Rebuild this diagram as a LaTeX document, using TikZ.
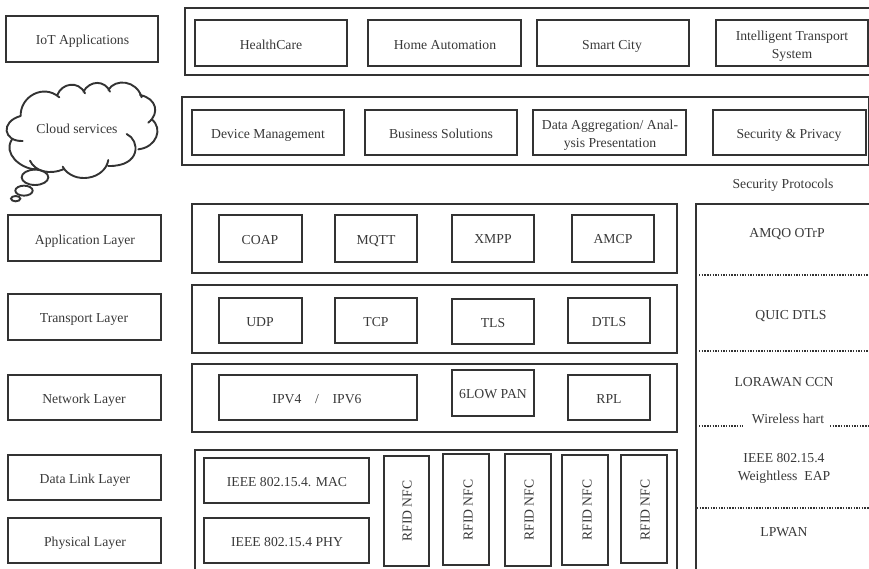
\documentclass[tikz,border=0pt]{standalone}
\usepackage{fontspec}
\setmainfont{Liberation Serif}
\usetikzlibrary{calc}
\definecolor{ink}{gray}{0.2}
\definecolor{txt}{gray}{0.22}
\tikzset{
  x=1pt,y=-1pt,
  box/.style={draw=ink,line width=2pt,inner sep=0pt},
  plain/.style={text=txt,font=\fontsize{13.7}{18.5}\selectfont,inner sep=0pt,align=center,text height=9pt,text depth=0pt},
  dotline/.style={draw=ink,line width=1.7pt,dash pattern=on 1.4pt off 1.3pt},
  cloudline/.style={draw=ink,line width=1.9pt,line cap=round}
}
% name, x0, y0, x1, y1 : empty box
\newcommand{\bx}[5]{\path let \p1=(#2,#3), \p2=(#4,#5) in
  node[box,minimum width=\x2-\x1,minimum height=\y1-\y2] (#1) at ($(#2,#3)!0.5!(#4,#5)$) {};}
% as above, plus text centre x, y (of the last line) and text
\newcommand{\tb}[8]{\bx{#1}{#2}{#3}{#4}{#5}\node[plain] (#1t) at (#6,#7) {#8};}
\begin{document}
\begin{tikzpicture}
\useasboundingbox (0,0) rectangle (869,568);
\clip (0,0) rectangle (869,568);
% left column
\tb{la}{6}{16}{158}{62}{82.5}{40}{IoT Applications}
\tb{lb}{8}{215}{161}{261}{85}{240}{Application Layer}
\tb{lc}{8}{294}{161}{340}{84}{318}{Transport Layer}
\tb{ld}{8}{375}{161}{420}{84}{399}{Network Layer}
\tb{le}{8}{455}{161}{500}{85}{479}{Data Link Layer}
\tb{lf}{8}{518}{161}{563}{85}{542}{Physical Layer}
% row 1
\bx{oa}{185}{8}{873}{75}
\tb{aa}{195}{20}{347}{66}{271}{45}{HealthCare}
\tb{ab}{368}{20}{521}{66}{445}{45}{Home Automation}
\tb{ac}{537}{20}{689}{66}{612}{45}{Smart City}
\tb{ad}{716}{20}{868}{66}{792}{54}{Intelligent Transport\\System}
% row 2
\bx{ob}{182}{97}{868.5}{165}
\tb{ba}{192}{110}{344}{155}{268}{134}{Device Management}
\tb{bb}{365}{110}{517}{155}{441}{134}{Business Solutions}
\tb{bc}{533}{110}{686}{155}{610}{143}{Data Aggregation/ Anal-\\ysis Presentation}
\tb{bd}{713}{110}{866}{155}{789}{134}{Security \& Privacy}
\node[plain] (sp) at (783,184) {Security Protocols};
% application
\bx{oc}{192}{204}{677}{273}
\tb{ca}{219}{215}{302}{262}{260}{240}{COAP}
\tb{cb}{335}{215}{417}{262}{376}{240}{MQTT}
\tb{cc}{452}{215}{534}{262}{493}{239}{XMPP}
\tb{cd}{572}{215}{654}{262}{613}{239}{AMCP}
% transport
\bx{od}{192}{285}{677}{353}
\tb{da}{219}{298}{302}{343}{260}{322}{UDP}
\tb{db}{335}{298}{417}{343}{376}{322}{TCP}
\tb{dc}{452}{299}{534}{344}{493}{323}{TLS}
\tb{dd}{568}{298}{650}{343}{609}{322}{DTLS}
% network
\bx{oe}{192}{364}{677}{432}
\tb{ea}{219}{375}{417}{420}{317}{399}{IPV4\quad/\quad IPV6}
\tb{eb}{452}{370}{534}{416}{493}{394}{6LOW PAN}
\tb{ec}{568}{375}{650}{420}{609}{399}{RPL}
% link / physical
\bx{of}{195}{450}{677}{575}
\tb{fa}{204}{458}{369}{503}{287}{482}{IEEE 802.15.4. MAC}
\tb{fb}{204}{518}{369}{563}{287}{542}{IEEE 802.15.4 PHY}
\bx{ga}{384}{456}{429}{566}
\bx{gb}{443}{454}{489}{565}
\bx{gc}{505}{454}{551}{566}
\bx{gd}{562}{455}{608}{565}
\bx{ge}{621}{455}{667}{563}
\node[plain,rotate=90] (gat) at (407,511) {RFID NFC};
\node[plain,rotate=90] (gbt) at (468,510) {RFID NFC};
\node[plain,rotate=90] (gct) at (529,510) {RFID NFC};
\node[plain,rotate=90] (gdt) at (587,510) {RFID NFC};
\node[plain,rotate=90] (get) at (645,510) {RFID NFC};
% security column
\bx{r}{696}{204}{875}{575}
\node[plain] (ra) at (787,233) {AMQO OTrP};
\node[plain] (rb) at (791,315) {QUIC DTLS};
\node[plain] (rc) at (784,382) {LORAWAN CCN};
\node[plain] (rd) at (788,419) {Wireless hart};
\node[plain] (re) at (784,476) {IEEE 802.15.4\\Weightless\ \ EAP};
\node[plain] (rf) at (784,532) {LPWAN};
\coordinate (dl1) at (699,275); \coordinate (dr1) at (869,275);
\coordinate (dl2) at (699,351); \coordinate (dr2) at (869,351);
\coordinate (dl3) at (699,426); \coordinate (dm3) at (743,426);
\coordinate (dm4) at (830,426); \coordinate (dr3) at (869,426);
\coordinate (dl4) at (697,508); \coordinate (dr4) at (869,508);
\path[dotline] (dl1)--(dr1) (dl2)--(dr2) (dl3)--(dm3) (dm4)--(dr3) (dl4)--(dr4);
% cloud
\begin{scope}[shift={(0,60)},x=0.3333pt,y=-0.3333pt]
\path[cloudline]
 (62,168) .. controls (60,110) and (130,70) .. (178,112)
 (172,105) .. controls (185,70) and (235,60) .. (255,100)
 (250,95) .. controls (270,60) and (315,60) .. (330,95)
 (325,90) .. controls (345,55) and (410,60) .. (425,112)
 (420,105) .. controls (470,115) and (480,160) .. (445,188)
 (455,178) .. controls (490,205) and (470,262) .. (415,268)
 (380,222) .. controls (420,240) and (425,320) .. (325,318)
 (325,300) .. controls (315,360) and (220,375) .. (188,320)
 (190,328) .. controls (150,345) and (105,335) .. (90,302)
 (105,328) .. controls (60,325) and (10,280) .. (35,240)
 (68,243) .. controls (10,245) and (0,185) .. (62,168);
\path[cloudline] (105,352) ellipse [x radius=40,y radius=23];
\path[cloudline] (72,392) ellipse [x radius=26,y radius=15];
\path[cloudline] (47,416) ellipse [x radius=14,y radius=8];
\end{scope}
\node[plain] (cl) at (77,129) {Cloud services};
\end{tikzpicture}
\end{document}
